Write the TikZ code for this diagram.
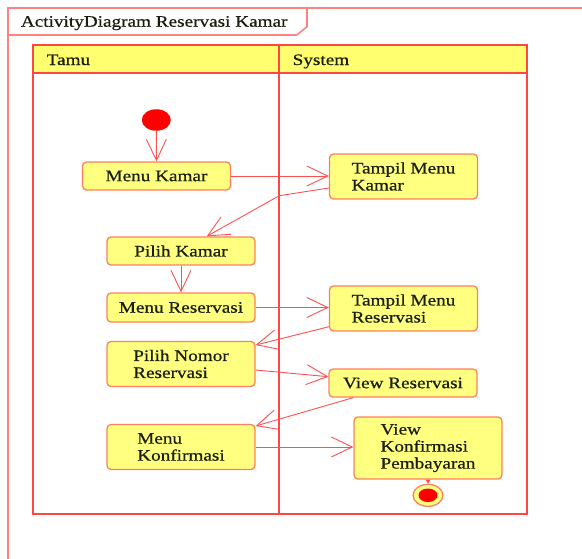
\documentclass[tikz,border=0pt]{standalone}
\usepackage{fontspec}
\setmainfont{Liberation Serif}[FakeStretch=1.2,FakeBold=0.6]
\usetikzlibrary{arrows.meta,calc,shapes.geometric}

\definecolor{framered}{RGB}{255,130,130}
\definecolor{lanered}{RGB}{255,70,70}
\definecolor{edgered}{RGB}{255,80,80}
\definecolor{boxfill}{RGB}{255,255,128}
\definecolor{boxline}{RGB}{255,128,96}
\definecolor{headfill}{RGB}{255,255,112}
\definecolor{inkdark}{RGB}{25,30,15}

\tikzset{
  actbox/.style={draw=boxline, fill=boxfill, line width=1.3pt, rounded corners=4pt,
    minimum width=148pt, inner sep=0pt, text=inkdark, align=left,
    font=\fontsize{16pt}{17pt}\selectfont},
  flow/.style={draw=edgered, line width=0.9pt,
    -{Straight Barb[length=21pt,width=20pt,line join=miter]}},
  lane/.style={draw=lanered, line width=1.8pt},
  frameline/.style={draw=framered, line width=1.6pt},
  labeltext/.style={anchor=base west, inner sep=0pt, text=inkdark,
    font=\fontsize{16pt}{17pt}\selectfont},
}

\begin{document}
\begin{tikzpicture}[x=1pt, y=-1pt]
\useasboundingbox (0,0) rectangle (582,558);
\begin{scope}
\clip (0,0) rectangle (582,558);

% outer activity frame with its name tab
\draw[frameline] (8,600) -- (8,8) -- (620,8);
\draw[frameline] (307,8) -- (307,26.7) -- (296.7,35) -- (8,35);
\node[labeltext] (title) at (20.7,26.7) {ActivityDiagram Reservasi Kamar};

% swimlanes
\fill[headfill] (33,45) rectangle (527,73);
\draw[lane] (33,45) rectangle (527,514);
\draw[lane] (33,73) -- (527,73);
\draw[lane] (279,45) -- (279,514);
\node[labeltext] (tamu) at (46.5,65) {Tamu};
\node[labeltext] (sys) at (292.5,65) {System};
\end{scope}

% start and end points
\node[ellipse, fill=red, minimum width=29pt, minimum height=21.5pt, inner sep=0pt] (start) at (156.3,120) {};
\node[ellipse, draw=boxline, fill=boxfill, line width=1.3pt, minimum width=30pt, minimum height=22pt, inner sep=0pt] (final) at (428,495.3) {};
\node[ellipse, fill=red, minimum width=19pt, minimum height=13.5pt, inner sep=0pt] (finaldot) at (428,495.3) {};

% actions: Tamu
\node[actbox, minimum height=28pt] (mk) at (156.5,176) {Menu Kamar};
\node[actbox, minimum height=28pt] (pk) at (181,251) {Pilih Kamar};
\node[actbox, minimum height=29pt] (mr) at (181,307.5) {Menu Reservasi};
\node[actbox, minimum height=45pt] (pn) at (181,364) {Pilih Nomor\\Reservasi};
\node[actbox, minimum height=45pt] (mkf) at (181,447) {Menu\\Konfirmasi};

% actions: System
\node[actbox, minimum height=45pt] (tmk) at (403.5,176.5) {Tampil Menu\\Kamar};
\node[actbox, minimum height=45pt] (tmr) at (403.5,308.5) {Tampil Menu\\Reservasi};
\node[actbox, minimum height=28pt] (vr) at (403,383) {View Reservasi};
\node[actbox, minimum height=62pt] (vkp) at (428,448) {View\\Konfirmasi\\Pembayaran};

\coordinate (bend1) at (279.3,195.7);

% control flow
\draw[flow] (start.south) -- (mk.north);
\draw[flow] (mk.east) -- (mk.east -| tmk.west);
\draw[flow] ([yshift=-11.5pt]tmk.west) -- (bend1) -- ([xshift=25.7pt]pk.north);
\draw[flow] (pk.south) -- (mr.north);
\draw[flow] (mr.east) -- (mr.east -| tmr.west);
\draw[flow] ([yshift=-18.2pt]tmr.west) -- ([yshift=19pt]pn.east);
\draw[flow] ([yshift=-6pt]pn.east) -- ([yshift=6.3pt]vr.west);
\draw[flow] ([xshift=-49.7pt]vr.south) -- ([yshift=21pt]mkf.east);
\draw[flow] (mkf.east) -- (mkf.east -| vkp.west);
\draw[draw=edgered, line width=0.9pt, -{Triangle[length=4pt,width=5pt]}] (vkp.south) -- (final.north);
\end{tikzpicture}
\end{document}
